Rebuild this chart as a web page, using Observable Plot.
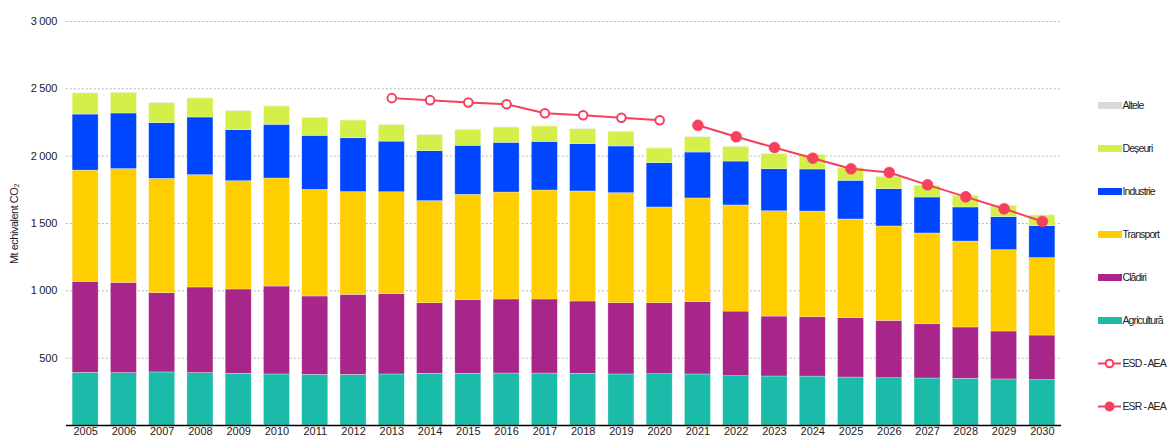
<!DOCTYPE html>
<html>
<head>
<meta charset="utf-8">
<script src="https://cdn.jsdelivr.net/npm/d3@7"></script>
<script src="https://cdn.jsdelivr.net/npm/@observablehq/plot@0.6"></script>
<style>
  html, body { margin: 0; padding: 0; background: #fff; }
  #chart { width: 1168px; height: 439px; overflow: hidden; }
</style>
</head>
<body>
<div id="chart"></div>
<script>
const years = [2005,2006,2007,2008,2009,2010,2011,2012,2013,2014,2015,2016,2017,2018,2019,2020,2021,2022,2023,2024,2025,2026,2027,2028,2029,2030];

const agricultura = [391,389,394,389,384,379,376,376,379,384,384,386,386,384,379,381,379,366,364,363,356,351,349,347,342,337];
const cladiri     = [676,670,589,636,626,653,582,594,597,524,547,550,550,537,529,527,537,480,445,441,441,426,403,381,356,331];
const transport   = [826,845,848,834,804,802,792,763,756,758,782,794,809,817,817,711,770,788,782,785,733,701,674,638,604,575];
const industrie   = [416,413,414,428,379,399,401,400,376,371,364,369,361,351,347,329,341,326,312,312,287,277,267,253,245,237];
const deseuri     = [157,154,149,142,142,136,134,132,123,119,119,114,115,112,109,109,115,110,112,109,94,92,87,87,85,80];
const altele      = [3,3,3,3,3,3,3,3,3,3,3,3,3,3,3,3,3,3,3,3,3,3,3,3,3,3];

const esdYears = [2013,2014,2015,2016,2017,2018,2019,2020];
const esdValues = [2431,2416,2398,2386,2319,2304,2285,2267];
const esrYears = [2021,2022,2023,2024,2025,2026,2027,2028,2029,2030];
const esrValues = [2229,2144,2064,1985,1906,1879,1787,1698,1609,1515];

const yTicks = [500,1000,1500,2000,2500,3000];

const seriesNames = ["Agricultură","Clădiri","Transport","Industrie","Deșeuri","Altele"];
const seriesValues = [agricultura, cladiri, transport, industrie, deseuri, altele];
const seriesColors = ["#1abba8","#a8268a","#ffce00","#0046ff","#d5ef4a","#d9d9d9"];
const lineColor = "#f5405e";

const rows = [];
seriesNames.forEach((name, si) => {
  years.forEach((y, i) => rows.push({year: y, sector: name, value: seriesValues[si][i]}));
});
const esd = esdYears.map((y, i) => ({year: y, value: esdValues[i]}));
const esr = esrYears.map((y, i) => ({year: y, value: esrValues[i]}));

const fmt = v => d3.format(",")(v).replace(/,/g, "\u2009");
const font = "'Liberation Sans', Arial, sans-serif";

const chart = Plot.plot({
  width: 1168,
  height: 439,
  marginLeft: 66,
  marginRight: 107,
  marginTop: 21,
  marginBottom: 14,
  style: {fontFamily: font, fontSize: "11px", color: "#222", background: "#fff", overflow: "visible"},
  x: {domain: years, paddingInner: 0.32, paddingOuter: 0.16, round: false, label: null},
  y: {domain: [0, 3000], label: null},
  color: {domain: seriesNames, range: seriesColors},
  marks: [
    Plot.gridY(yTicks, {stroke: "#999", strokeOpacity: 0.9, strokeDasharray: "1.5,2.5", strokeWidth: 1}),
    Plot.axisY(yTicks, {tickSize: 0, tickPadding: 9, tickFormat: fmt, fontSize: 11, fill: "#222"}),
    Plot.axisX({tickSize: 0, tickPadding: 2, tickFormat: d => String(d), fontSize: 11, fill: "#222"}),
    Plot.barY(rows, Plot.stackY({
      x: "year", y: "value", fill: "sector",
      order: seriesNames,
      stroke: "#fff", strokeOpacity: 0.5, strokeWidth: 0.6
    })),
    Plot.ruleY([0], {stroke: "#000", strokeWidth: 1.5}),
    Plot.line(esd, {x: "year", y: "value", stroke: lineColor, strokeWidth: 2}),
    Plot.dot(esd, {x: "year", y: "value", r: 4.3, fill: "#fff", stroke: lineColor, strokeWidth: 2}),
    Plot.line(esr, {x: "year", y: "value", stroke: lineColor, strokeWidth: 2}),
    Plot.dot(esr, {x: "year", y: "value", r: 5.5, fill: lineColor, stroke: lineColor, strokeWidth: 0.5})
  ]
});

document.getElementById("chart").appendChild(chart);

const svg = d3.select(chart);

// y-axis title
svg.append("text")
  .attr("transform", "translate(18,224) rotate(-90)")
  .attr("text-anchor", "middle")
  .style("font-family", font)
  .style("font-size", "11px")
  .style("letter-spacing", "-0.5px")
  .attr("fill", "#222")
  .text("Mt echivalent CO₂");

// legend
const legendItems = [
  {label: "Altele", type: "rect", color: seriesColors[5]},
  {label: "Deșeuri", type: "rect", color: seriesColors[4]},
  {label: "Industrie", type: "rect", color: seriesColors[3]},
  {label: "Transport", type: "rect", color: seriesColors[2]},
  {label: "Clădiri", type: "rect", color: seriesColors[1]},
  {label: "Agricultură", type: "rect", color: seriesColors[0]},
  {label: "ESD - AEA", type: "open", color: lineColor},
  {label: "ESR - AEA", type: "filled", color: lineColor}
];
const lg = svg.append("g").style("font-family", font).style("font-size", "10.5px").attr("text-anchor", "start");
legendItems.forEach((it, i) => {
  const cy = 105.5 + i * 43;
  const g = lg.append("g").attr("transform", `translate(1098,${cy})`);
  if (it.type === "rect") {
    g.append("rect").attr("x", 0).attr("y", -3.5).attr("width", 24).attr("height", 7).attr("fill", it.color);
  } else {
    g.append("line").attr("x1", 0).attr("x2", 23).attr("y1", 0).attr("y2", 0).attr("stroke", it.color).attr("stroke-width", 2);
    if (it.type === "open") {
      g.append("circle").attr("cx", 11.5).attr("cy", 0).attr("r", 3.8).attr("fill", "#fff").attr("stroke", it.color).attr("stroke-width", 2);
    } else {
      g.append("circle").attr("cx", 11.5).attr("cy", 0).attr("r", 5).attr("fill", it.color);
    }
  }
  g.append("text").attr("x", 24.5).attr("y", 0).attr("dy", "0.35em").attr("text-anchor", "start")
    .attr("fill", "#222").style("letter-spacing", "-0.9px").text(it.label);
});
</script>
</body>
</html>
